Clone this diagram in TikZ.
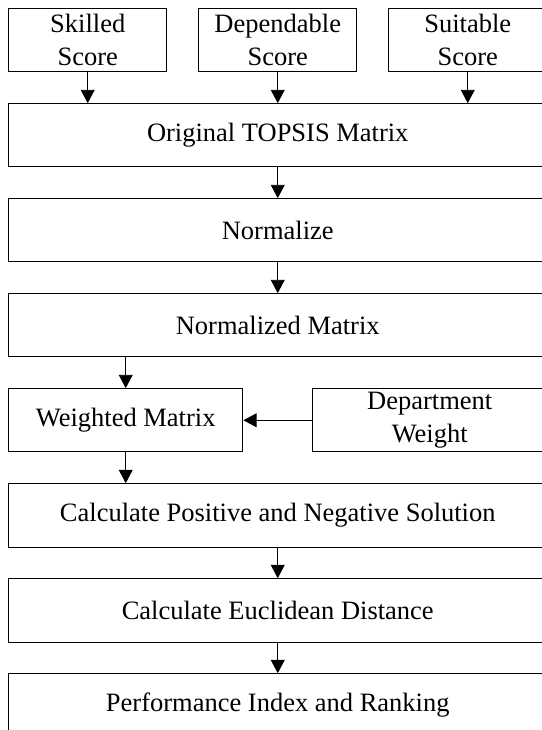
\documentclass[tikz,border=0pt]{standalone}
\usepackage{fontspec}
\setmainfont{Liberation Serif}
\usetikzlibrary{arrows.meta}
\begin{document}
\begin{tikzpicture}
\tikzstyle{score}=[draw, rectangle, minimum width=5cm, minimum height=2cm, align=center, line width=0.8pt, inner sep=0pt, font=\fontsize{23.8}{29.5}\selectfont]
\tikzstyle{stage}=[draw, rectangle, minimum width=17cm, minimum height=2cm, line width=0.8pt, inner sep=0pt, font=\fontsize{23.8}{29.5}\selectfont]
\tikzstyle{half}=[draw, rectangle, minimum width=7.4cm, minimum height=2cm, align=center, line width=0.8pt, inner sep=0pt, font=\fontsize{23.8}{29.5}\selectfont]
\tikzstyle{line}=[draw, -{Triangle[length=0.42cm,width=0.44cm]}, line width=0.8pt]

\useasboundingbox (0,0) rectangle (17.11,-23.05);

% Score inputs
\node[score] (skilled) at (2.77,-1.27) {Skilled\\Score};
\node[score] (dependable) at (8.77,-1.27) {Dependable\\Score};
\node[score] (suitable) at (14.77,-1.27) {Suitable\\Score};

% TOPSIS steps
\node[stage] (original) at (8.77,-4.27) {Original TOPSIS Matrix};
\node[stage] (normalize) at (8.77,-7.27) {Normalize};
\node[stage] (normalized) at (8.77,-10.27) {Normalized Matrix};
\node[half] (weighted) at (3.97,-13.27) {Weighted Matrix};
\node[half] (department) at (13.57,-13.27) {Department\\Weight};
\node[stage] (solution) at (8.77,-16.27) {Calculate Positive and Negative Solution};
\node[stage] (distance) at (8.77,-19.27) {Calculate Euclidean Distance};
\node[stage] (ranking) at (8.77,-22.27) {Performance Index and Ranking};

% Flow
\draw[line] (skilled.south) -- (skilled.south |- original.north);
\draw[line] (dependable.south) -- (original.north);
\draw[line] (suitable.south) -- (suitable.south |- original.north);
\draw[line] (original) -- (normalize);
\draw[line] (normalize) -- (normalized);
\draw[line] (weighted.north |- normalized.south) -- (weighted.north);
\draw[line] (department) -- (weighted);
\draw[line] (weighted.south) -- (weighted.south |- solution.north);
\draw[line] (solution) -- (distance);
\draw[line] (distance) -- (ranking);
\end{tikzpicture}
\end{document}
